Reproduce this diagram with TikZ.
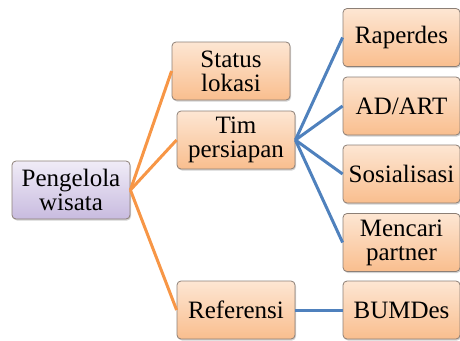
\documentclass[tikz,border=0pt]{standalone}
\usepackage{fontspec}
\setmainfont{Liberation Serif}
\usetikzlibrary{shadows}

\definecolor{peachtop}{HTML}{FDE6D3}
\definecolor{peachbot}{HTML}{F9BE8E}
\definecolor{liltop}{HTML}{F0ECF7}
\definecolor{lilbot}{HTML}{C8BBDF}
\definecolor{edgeorange}{HTML}{F79646}
\definecolor{edgeblue}{HTML}{4F81BD}
\definecolor{boxline}{HTML}{8C7F76}

\tikzset{
  box/.style={draw=boxline,line width=0.8pt,rounded corners=4pt,
    minimum width=118pt,minimum height=58pt,align=center,
    font=\fontsize{25}{24}\selectfont,
    top color=peachtop,bottom color=peachbot,
    drop shadow={opacity=0.35,shadow xshift=1pt,shadow yshift=-1.5pt}},
  rootbox/.style={box,top color=liltop,bottom color=lilbot},
  orangeline/.style={edgeorange,line width=3pt},
  blueline/.style={edgeblue,line width=3pt}
}

\begin{document}
\begin{tikzpicture}[x=1pt,y=-1pt]
          \useasboundingbox (0,0) rectangle (460,340);

          \node[rootbox] (P) at (71,190) {Pengelola\\wisata};
          \node[box] (S) at (231,71) {Status\\lokasi};
          \node[box] (T) at (236,140) {Tim\\persiapan};
          \node[box] (R) at (236,310) {Referensi};

          \node[box,minimum width=117pt] (A) at (401.5,37.5) {Raperdes};
          \node[box,minimum width=117pt] (B) at (401.5,106) {AD/ART};
          \node[box,minimum width=117pt] (C) at (401.5,174) {Sosialisasi};
          \node[box,minimum width=117pt] (D) at (401.5,242.5) {Mencari\\partner};
          \node[box,minimum width=117pt] (E) at (401.5,310) {BUMDes};

          \draw[orangeline] (P.east) -- (S.west);
          \draw[orangeline] (P.east) -- (T.west);
          \draw[orangeline] (P.east) -- (R.west);

          \draw[blueline] (T.east) -- (A.west);
          \draw[blueline] (T.east) -- (B.west);
          \draw[blueline] (T.east) -- (C.west);
          \draw[blueline] (T.east) -- (D.west);
          \draw[blueline] (R.east) -- (E.west);
        \end{tikzpicture}
\end{document}
